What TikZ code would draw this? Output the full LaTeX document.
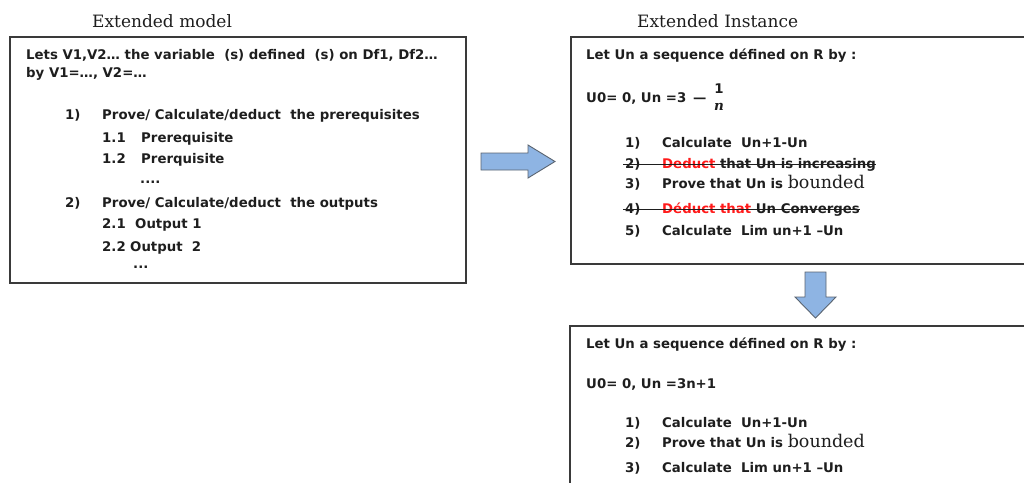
\documentclass[tikz,border=0pt]{standalone}
\usepackage{fontspec}
\setmainfont{DejaVu Sans}
\newfontfamily\ttlfont{DejaVu Serif}
\usetikzlibrary{calc}

\definecolor{ink}{HTML}{1E1E1E}
\definecolor{boxline}{HTML}{3A3A3A}
\definecolor{strikered}{HTML}{FF1A1A}
\definecolor{arrowfill}{HTML}{8EB4E3}
\definecolor{arrowline}{HTML}{5A6470}

\newcommand{\num}[2]{\makebox[#1pt][l]{#2}}
\newcommand{\srf}[1]{{\ttlfont\fontsize{17.5}{20}\selectfont\mdseries #1}}

\tikzset{
  txt/.style={anchor=base west, inner sep=0pt, text=ink,
    font=\fontsize{13.3}{16}\selectfont\bfseries},
  fracpart/.style={anchor=base, inner sep=0pt, text=ink},
  title/.style={anchor=base west, inner sep=0pt, text=ink,
    font=\ttlfont\fontsize{17}{20}\selectfont},
  frame/.style={draw=boxline, line width=1.2pt},
  strike/.style={draw=ink, line width=1pt},
  blockarrow/.style={fill=arrowfill, draw=arrowline, line width=0.9pt, line join=miter}
}

\begin{document}
\begin{tikzpicture}[x=1pt, y=-1pt]
\useasboundingbox (0,0) rectangle (1024,483);

% ---- titles
\node[title] (tmodel) at (92,27) {Extended model};
\node[title] (tinst) at (637,27) {Extended Instance};

% ---- generic model
\draw[frame] (10,37) rectangle (466,283);
\node[txt] (m1) at (26,59) {Lets V1,V2… the variable\ \ (s) defined\ \ (s) on Df1, Df2…};
\node[txt] (m2) at (26,77) {by V1=…, V2=…};
\node[txt] (m3) at (65,119) {\num{37}{1)}Prove/ Calculate/deduct\ \ the prerequisites};
\node[txt] (m4) at (102,142) {\num{39}{1.1}Prerequisite};
\node[txt] (m5) at (102,163) {\num{39}{1.2}Prerquisite};
\node[txt] (m6) at (140,183) {....};
\node[txt] (m7) at (65,207) {\num{37}{2)}Prove/ Calculate/deduct\ \ the outputs};
\node[txt] (m8) at (102,228) {\num{33}{2.1}Output 1};
\node[txt] (m9) at (102,251) {\num{28}{2.2}Output\ \ 2};
\node[txt] (m10) at (133,268) {...};

% ---- arrow to the instance
\draw[blockarrow] (481,153) -- (528,153) -- (528,145) -- (555,161.5)
  -- (528,178) -- (528,170) -- (481,170) -- cycle;

% ---- first instance
\draw[frame] (1024,37) -- (571,37) -- (571,264) -- (1024,264);
\node[txt] (a1) at (586,59) {Let Un a sequence défined on R by :};
\node[txt] (a2) at (586,102) {U0= 0, Un =3};
\node[txt] (a2m) at (693,102) {—};
\node[fracpart, font=\fontsize{13.3}{16}\selectfont\bfseries] (a2num) at (719,93) {1};
\node[fracpart, font=\ttlfont\fontsize{13.5}{16}\selectfont\bfseries\itshape] (a2den) at (719,110) {n};
\node[txt] (a3) at (625,147) {\num{37}{1)}Calculate\ \ Un+1-Un};
\node[txt] (a4) at (625,168) {\num{37}{2)}\textcolor{strikered}{Deduct} that Un is increasing};
\node[txt] (a5) at (625,188) {\num{37}{3)}Prove that Un is \srf{bounded}};
\node[txt] (a6) at (625,213) {\num{37}{4)}\textcolor{strikered}{Déduct that} Un Converges};
\node[txt] (a7) at (625,235) {\num{37}{5)}Calculate\ \ Lim un+1 –Un};
\draw[strike] ([xshift=-2pt,yshift=4pt]a4.base west) -- ([yshift=4pt]a4.base east);
\draw[strike] ([xshift=-2pt,yshift=4pt]a6.base west) -- ([yshift=4pt]a6.base east);

% ---- arrow to the reduced instance
\draw[blockarrow] (805,272) -- (826,272) -- (826,297) -- (836,297) -- (815.5,318)
  -- (795,297) -- (805,297) -- cycle;

% ---- reduced instance
\draw[frame] (1024,326) -- (570,326) -- (570,483);
\node[txt] (b1) at (586,348) {Let Un a sequence défined on R by :};
\node[txt] (b2) at (586,388) {U0= 0, Un =3n+1};
\node[txt] (b3) at (625,427) {\num{37}{1)}Calculate\ \ Un+1-Un};
\node[txt] (b4) at (625,447) {\num{37}{2)}Prove that Un is \srf{bounded}};
\node[txt] (b5) at (625,472) {\num{37}{3)}Calculate\ \ Lim un+1 –Un};
\end{tikzpicture}
\end{document}
